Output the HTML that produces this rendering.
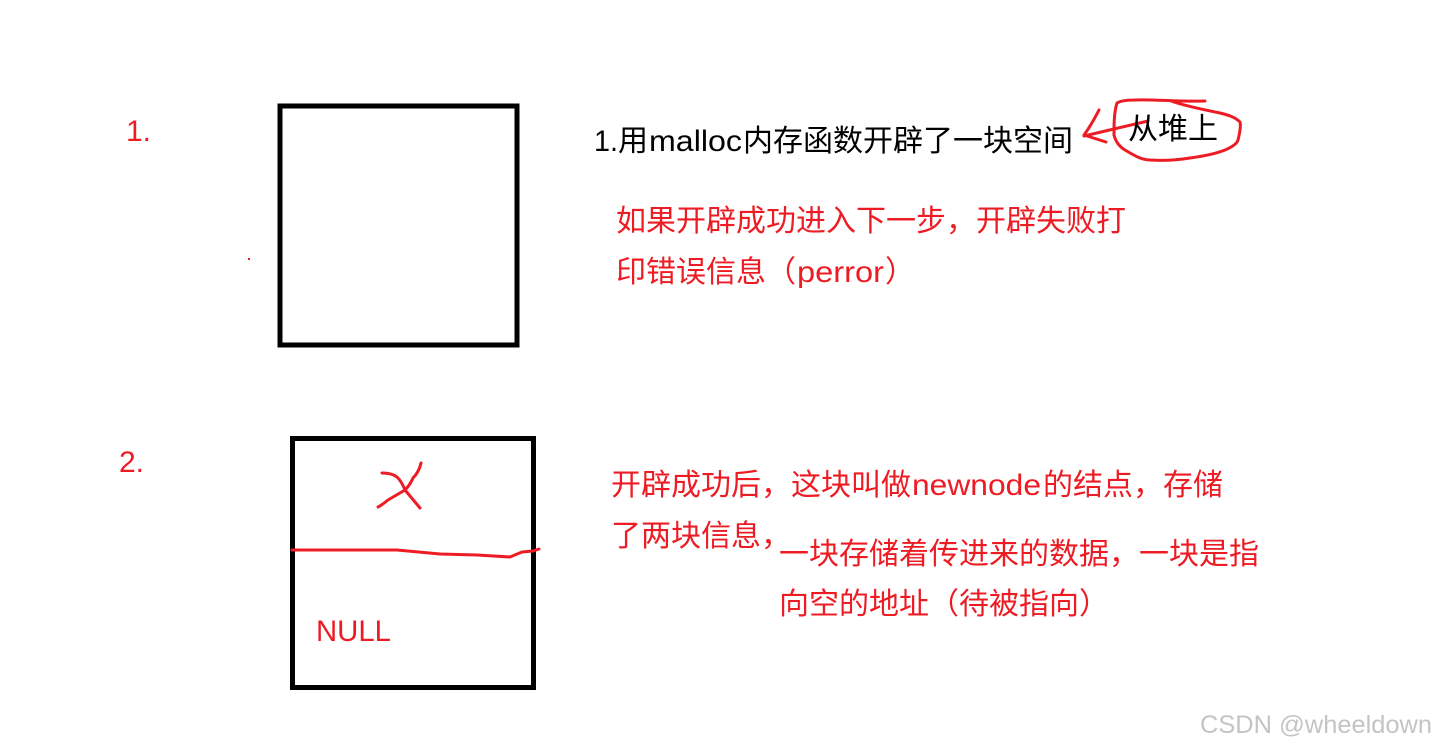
<!DOCTYPE html>
<html><head><meta charset="utf-8">
<style>
html,body{margin:0;padding:0;background:#fff;}
#p{position:relative;width:1436px;height:750px;overflow:hidden;background:#fff;}
svg{position:absolute;left:0;top:0;}
text{font-family:"Liberation Sans","Noto Sans CJK SC",sans-serif;font-size:30px;fill:#ed1c24;}
.k{fill:#000;}
</style></head><body><div id="p">
<svg width="1436" height="750" viewBox="0 0 1436 750">
<rect x="280" y="106" width="237" height="239" fill="none" stroke="#000" stroke-width="5"/>
<rect x="292.500" y="438.500" width="241" height="249" fill="none" stroke="#000" stroke-width="5"/>
<rect x="248" y="258" width="2" height="2" fill="#ed1c24"/>
<g fill="none" stroke="#ed1c24" stroke-linecap="round" stroke-linejoin="round" stroke-width="3">
<path d="M292 550 L397 550 L440 554 L477 555 L510 557 L522 552 L533 551 L539 549"/>
<path d="M382 473 Q392 473 397 477 Q402 482 405 490 L420 508"/>
<path d="M378 507 Q382 505 388 500 L405 490 Q410 485 413 478 Q419 472 421 463"/>
<path d="M1099 110 Q1092 124 1084 135 L1106 142"/>
<path d="M1084 136 L1148 121"/>
<path d="M1205 101 C1180 102 1150 99 1135 100 C1125 100 1120 101 1117 103 C1114 112 1114 125 1114 135 C1116 143 1120 147 1125 150 C1135 156 1142 160 1150 160 C1165 161 1178 160 1190 158 C1205 156 1215 154 1225 150 C1232 147 1237 144 1238 140 C1240 132 1241 126 1240 122 C1235 117 1228 115 1220 113 C1205 110 1185 106 1171 101"/>
</g>
<text x="126" y="141">1.</text>
<text x="119" y="472">2.</text>

<text class="k" x="594" y="151" textLength="24" lengthAdjust="spacingAndGlyphs">1.</text>
<text class="k" x="618" y="151">用</text>
<text class="k" x="649" y="151" textLength="93" lengthAdjust="spacingAndGlyphs">malloc</text>
<text class="k" x="743" y="151">内存函数开辟了一块空间</text>
<text class="k" x="1128" y="139">从堆上</text>

<text x="616" y="231">如果开辟成功进入下一步，开辟失败打</text>
<text x="616" y="282">印错误信息（</text>
<text x="797" y="282" textLength="87" lengthAdjust="spacingAndGlyphs">perror</text>
<text x="885" y="282">）</text>

<text x="611" y="495">开辟成功后，这块叫做</text>
<text x="912" y="495" textLength="129" lengthAdjust="spacingAndGlyphs">newnode</text>
<text x="1043" y="495">的结点，存储</text>
<text x="611" y="546">了两块信息，</text>
<text x="779" y="564">一块存储着传进来的数据，一块是指</text>
<text x="779" y="614">向空的地址（待被指向）</text>
<text x="316" y="641" textLength="75" lengthAdjust="spacingAndGlyphs">NULL</text>
<text x="1200" y="733" textLength="232" lengthAdjust="spacingAndGlyphs" style="font-size:25px;fill:#c4c4c4">CSDN @wheeldown</text>
</svg>
</div></body></html>
